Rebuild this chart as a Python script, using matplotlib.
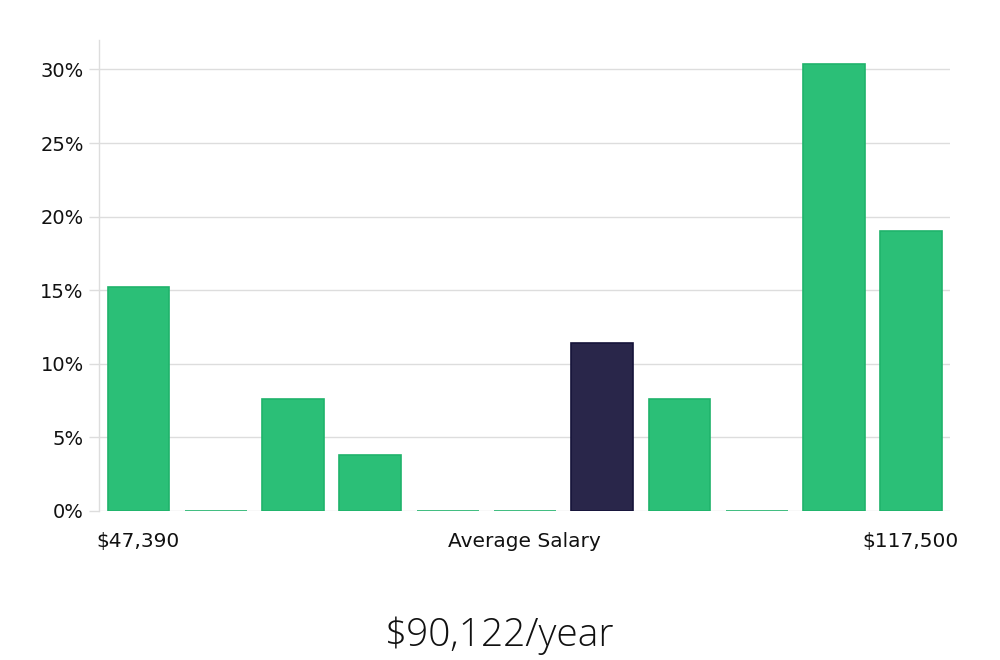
import matplotlib
matplotlib.use("Agg")
import matplotlib.pyplot as plt

values = [15.2, 0, 7.6, 3.8, 0, 0, 11.4, 7.6, 0, 30.4, 19.0]
highlight_index = 6
yticks = [0, 5, 10, 15, 20, 25, 30]
ytick_labels = [f"{v}%" for v in yticks]
min_label = "$47,390"
mid_label = "Average Salary"
max_label = "$117,500"
summary = "$90,122/year"

green = "#2bbf77"
green_edge = "#1fb36b"
dark = "#29264a"
dark_edge = "#15133a"
grid_c = "#dddddd"

fig = plt.figure(figsize=(10, 6.6), dpi=100)
ax = fig.add_axes([0.099, 0.2258, 0.851, 0.7136])

x = list(range(len(values)))
colors = [dark if i == highlight_index else green for i in x]
edges = [dark_edge if i == highlight_index else green_edge for i in x]
ax.bar(x, values, width=0.8, color=colors, edgecolor=edges, linewidth=1.2, zorder=3)

ax.set_xlim(-0.51, 10.5)
ax.set_ylim(0, 32)
ax.set_yticks(yticks)
ax.set_yticklabels(ytick_labels, fontsize=14, color="#111111")
ax.set_xticks([])
ax.yaxis.grid(True, color=grid_c, linewidth=1, zorder=0)
ax.tick_params(axis="y", length=7, color=grid_c, width=1, pad=4)
for s in ["top", "right", "bottom"]:
    ax.spines[s].set_visible(False)
ax.spines["left"].set_color(grid_c)
ax.spines["left"].set_linewidth(1)

ax.text(-0.003, -0.065, min_label, transform=ax.transAxes, ha="left", va="center", fontsize=14.5, color="#111111")
ax.text(0.5, -0.065, mid_label, transform=ax.transAxes, ha="center", va="center", fontsize=14.5, color="#111111")
ax.text(1.01, -0.065, max_label, transform=ax.transAxes, ha="right", va="center", fontsize=14.5, color="#111111")

fig.text(0.5, 0.036, summary, ha="center", va="center", fontsize=28, family=["Open Sans", "DejaVu Sans"], fontweight="light", color="#111111")

fig.savefig("out.png", dpi=100)
